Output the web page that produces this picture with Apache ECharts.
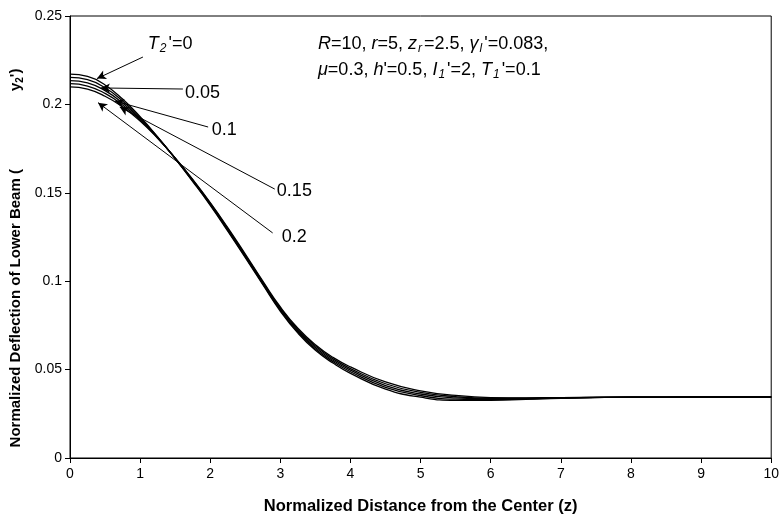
<!DOCTYPE html>
<html>
<head>
<meta charset="utf-8">
<script src="https://cdn.jsdelivr.net/npm/echarts@6/dist/echarts.min.js"></script>
<style>
  html, body { margin: 0; padding: 0; background: #fff; }
  #chart { width: 782px; height: 521px; }
</style>
</head>
<body>
<div id="chart"></div>
<script>
// z positions (normalized distance from the center)
const zValues = [0, 0.25, 0.5, 0.75, 1, 1.25, 1.5, 1.75, 2, 2.25, 2.5, 2.75, 3, 3.25, 3.5, 3.75, 4, 4.5, 5, 5.5, 6, 6.5, 7, 8, 9, 10];

// normalized deflection y2' for each T2'
const defT0 = [0.2171, 0.2158, 0.2110, 0.2030, 0.1930, 0.1816, 0.1693, 0.1564, 0.1429, 0.1283, 0.1133, 0.0980, 0.0830, 0.0706, 0.0609, 0.0537, 0.0479, 0.0390, 0.0344, 0.0326, 0.0326, 0.0332, 0.0338, 0.0344, 0.0345, 0.0345];
const defT005 = [0.2153, 0.2140, 0.2094, 0.2019, 0.1924, 0.1814, 0.1694, 0.1567, 0.1433, 0.1288, 0.1138, 0.0985, 0.0836, 0.0713, 0.0617, 0.0545, 0.0488, 0.0400, 0.0353, 0.0333, 0.0330, 0.0334, 0.0339, 0.0344, 0.0345, 0.0345];
const defT01 = [0.2135, 0.2122, 0.2078, 0.2008, 0.1918, 0.1812, 0.1695, 0.1570, 0.1437, 0.1293, 0.1143, 0.0990, 0.0842, 0.0720, 0.0625, 0.0553, 0.0497, 0.0410, 0.0362, 0.0340, 0.0334, 0.0336, 0.0340, 0.0344, 0.0345, 0.0345];
const defT015 = [0.2117, 0.2104, 0.2062, 0.1997, 0.1912, 0.1810, 0.1696, 0.1573, 0.1441, 0.1298, 0.1148, 0.0995, 0.0848, 0.0727, 0.0633, 0.0561, 0.0506, 0.0420, 0.0371, 0.0347, 0.0338, 0.0338, 0.0341, 0.0344, 0.0345, 0.0345];
const defT02 = [0.2099, 0.2086, 0.2046, 0.1986, 0.1906, 0.1808, 0.1697, 0.1576, 0.1445, 0.1303, 0.1153, 0.1000, 0.0854, 0.0734, 0.0641, 0.0569, 0.0515, 0.0430, 0.0380, 0.0354, 0.0342, 0.0340, 0.0342, 0.0344, 0.0345, 0.0345];

const seriesNames = ["T2'=0", "T2'=0.05", "T2'=0.1", "T2'=0.15", "T2'=0.2"];
const seriesValues = [defT0, defT005, defT01, defT015, defT02];

const xTicks = { min: 0, max: 10, interval: 1 };
const yTicks = { min: 0, max: 0.25, interval: 0.05 };

const font = "Liberation Sans, Arial, sans-serif";
const narrow = "Liberation Sans Narrow, Liberation Sans, Arial, sans-serif";

const richText = {
  i: { fontStyle: "italic", fontFamily: font, fontSize: 18, color: "#000" },
  n: { fontFamily: font, fontSize: 18, color: "#000" },
  sub: { fontStyle: "italic", fontFamily: font, fontSize: 12, color: "#000", padding: [10, 2, 0, 1] },
};

// curve labels: [text, z, y] and arrows: [[z1, y1], [z2, y2]]
const curveLabels = [
  ["{i|T}{sub|2}{n|'=0}", 1.11, 0.2342],
  ["{n|0.05}", 1.64, 0.2064],
  ["{n|0.1}", 2.02, 0.1855],
  ["{n|0.15}", 2.95, 0.151],
  ["{n|0.2}", 3.02, 0.125],
];
const arrows = [
  [[1.04, 0.2268], [0.385, 0.2146]],
  [[1.61, 0.2087], [0.44, 0.2093]],
  [[1.97, 0.1872], [0.64, 0.2019]],
  [[2.92, 0.1521], [0.71, 0.1985]],
  [[2.89, 0.1273], [0.40, 0.2010]],
];

const chart = echarts.init(document.getElementById("chart"));

const series = seriesValues.map((vals, idx) => ({
  name: seriesNames[idx],
  type: "line",
  smooth: 0.5,
  showSymbol: false,
  symbol: "none",
  data: zValues.map((z, i) => [z, vals[i]]),
  lineStyle: { color: "#000", width: 1.3 },
  z: 3,
}));

series[0].markLine = {
  silent: true,
  symbol: ["none", "arrow"],
  symbolSize: [7, 9],
  animation: false,
  label: { show: false },
  lineStyle: { color: "#000", width: 1, type: "solid" },
  data: arrows.map((a) => [{ coord: a[0] }, { coord: a[1] }]),
};
series[0].markPoint = {
  silent: true,
  symbol: "circle",
  symbolSize: 0,
  animation: false,
  label: {
    show: true,
    position: "right",
    distance: 0,
    formatter: (p) => p.name,
    rich: richText,
  },
  data: curveLabels.map((l) => ({ name: l[0], coord: [l[1], l[2]] })),
};

chart.setOption({
  animation: false,
  backgroundColor: "#fff",
  grid: { left: 70, right: 10, top: 16, bottom: 63, show: true, borderColor: "#000", borderWidth: 1 },
  xAxis: {
    type: "value",
    min: xTicks.min,
    max: xTicks.max,
    interval: xTicks.interval,
    name: "Normalized Distance from the Center (z)",
    nameLocation: "middle",
    nameGap: 40,
    nameTextStyle: { fontFamily: narrow, fontWeight: "bold", fontSize: 16.5, color: "#000" },
    axisLine: { lineStyle: { color: "#000", width: 1 } },
    axisTick: { show: true, inside: false, length: 5, lineStyle: { color: "#000" } },
    axisLabel: { color: "#000", fontFamily: font, fontSize: 14, margin: 9 },
    splitLine: { show: false },
  },
  yAxis: {
    type: "value",
    min: yTicks.min,
    max: yTicks.max,
    interval: yTicks.interval,
    axisLine: { show: true, lineStyle: { color: "#000", width: 1 } },
    axisTick: { show: true, inside: false, length: 5, lineStyle: { color: "#000" } },
    axisLabel: { color: "#000", fontFamily: font, fontSize: 14, margin: 8 },
    splitLine: { show: false },
  },
  graphic: [
    {
      type: "text",
      x: 16,
      y: 258,
      rotation: Math.PI / 2,
      style: {
        text: "{b|Normalized Deflection of Lower Beam (}{g|}{b|y}{bs|2}{b|')}",
        align: "center",
        verticalAlign: "middle",
        rich: {
          b: { fontFamily: narrow, fontWeight: "bold", fontSize: 15, fill: "#000" },
          bs: { fontFamily: narrow, fontWeight: "bold", fontSize: 10, fill: "#000", padding: [8, 0, 0, 0] },
          g: { width: 78 },
        },
      },
    },
    {
      type: "text",
      x: 318,
      y: 31,
      style: {
        text:
          "{i|R}{n|=10, }{i|r}{n|=5, }{i|z}{sub|r}{n|=2.5, }{i|γ}{sub|l}{n|'=0.083,}\n" +
          "{i|μ}{n|=0.3, }{i|h}{n|'=0.5, }{i|I}{sub|1}{n|'=2, }{i|T}{sub|1}{n|'=0.1}",
        lineHeight: 26,
        rich: {
          i: { fontStyle: "italic", fontFamily: font, fontSize: 18, fill: "#000", lineHeight: 26 },
          n: { fontFamily: font, fontSize: 18, fill: "#000", lineHeight: 26 },
          sub: { fontStyle: "italic", fontFamily: font, fontSize: 12, fill: "#000", padding: [10, 2, 0, 1], lineHeight: 26 },
        },
      },
    },
  ],
  series: series,
});
</script>
</body>
</html>
